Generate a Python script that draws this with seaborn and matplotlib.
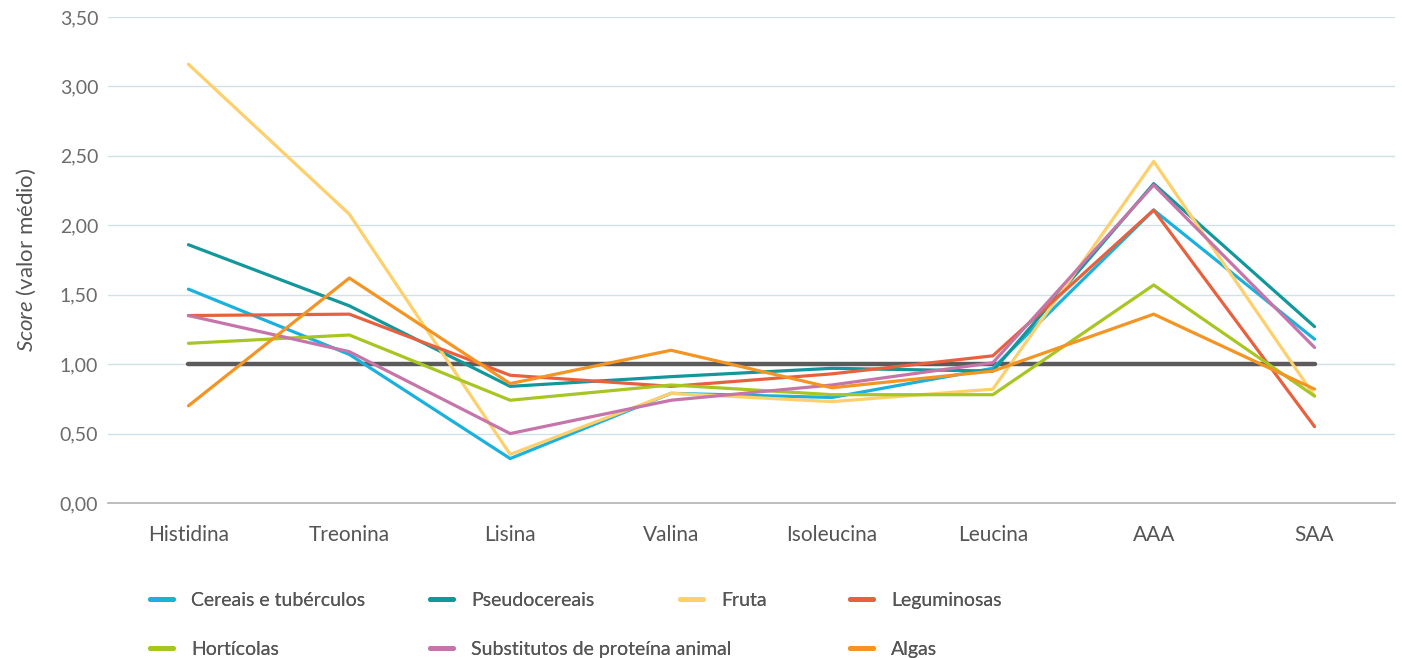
import numpy as np
import pandas as pd
import matplotlib
matplotlib.use("Agg")
import matplotlib.pyplot as plt
from matplotlib.ticker import FuncFormatter
from matplotlib.lines import Line2D
import seaborn as sns

AMINO = ["Histidina", "Treonina", "Lisina", "Valina", "Isoleucina", "Leucina", "AAA", "SAA"]

cereais      = [1.54, 1.07, 0.32, 0.79, 0.76, 0.97, 2.11, 1.18]
pseudo       = [1.86, 1.42, 0.84, 0.91, 0.97, 0.95, 2.30, 1.27]
fruta        = [3.16, 2.08, 0.35, 0.79, 0.73, 0.82, 2.46, 0.77]
leguminosas  = [1.35, 1.36, 0.92, 0.84, 0.93, 1.06, 2.11, 0.55]
horticolas   = [1.15, 1.21, 0.74, 0.85, 0.78, 0.78, 1.57, 0.77]
substitutos  = [1.35, 1.09, 0.50, 0.74, 0.85, 1.01, 2.29, 1.12]
algas        = [0.70, 1.62, 0.86, 1.10, 0.83, 0.95, 1.36, 0.82]
referencia   = [1.00] * 8

SERIES = {
    "Cereais e tubérculos": cereais,
    "Pseudocereais": pseudo,
    "Fruta": fruta,
    "Leguminosas": leguminosas,
    "Hortícolas": horticolas,
    "Substitutos de proteína animal": substitutos,
    "Algas": algas,
}
COLORS = {
    "Cereais e tubérculos": "#1ab1dd",
    "Pseudocereais": "#12979b",
    "Fruta": "#fdd06c",
    "Leguminosas": "#e8613f",
    "Hortícolas": "#a8c622",
    "Substitutos de proteína animal": "#c575a9",
    "Algas": "#f39423",
}

# legend columns: (x pixel, entries top to bottom)
LEGEND_COLS = [
    (150, ["Cereais e tubérculos", "Hortícolas"]),
    (430, ["Pseudocereais", "Substitutos de proteína animal"]),
    (680, ["Fruta"]),
    (850, ["Leguminosas", "Algas"]),
]

sns.set_theme(style="white")
plt.rcParams["font.family"] = ["Lato", "DejaVu Sans"]
plt.rcParams["mathtext.fontset"] = "custom"
plt.rcParams["mathtext.it"] = "Lato:italic"
plt.rcParams["mathtext.rm"] = "Lato"

rows = []
for name, vals in SERIES.items():
    for a, v in zip(AMINO, vals):
        rows.append({"aa": a, "score": v, "grupo": name})
df = pd.DataFrame(rows)
ref = pd.DataFrame({"aa": AMINO, "score": referencia})

W, H = 1402, 658
fig = plt.figure(figsize=(W / 100, H / 100), dpi=100)
ax = fig.add_axes([108 / W, 1 - 503 / H, (1395 - 108) / W, (503 - 17) / H])

sns.lineplot(data=ref, x="aa", y="score", color="#5b5b5b", lw=3.2, ax=ax,
             sort=False, zorder=2)
sns.lineplot(data=df, x="aa", y="score", hue="grupo", palette=COLORS,
             hue_order=list(SERIES.keys()), lw=2.3, ax=ax, sort=False,
             legend=False, zorder=3)

ax.set_xlim(-0.5, len(AMINO) - 0.5)
ax.set_ylim(0, 3.5)
ax.set_yticks(np.arange(0, 3.51, 0.5))
ax.yaxis.set_major_formatter(FuncFormatter(lambda v, _: f"{v:.2f}".replace(".", ",")))
ax.grid(axis="y", color="#cfe2ea", lw=1)
ax.grid(axis="x", visible=False)
for s in ["top", "right", "left"]:
    ax.spines[s].set_visible(False)
ax.spines["bottom"].set_color("#b5b5b5")
ax.tick_params(axis="y", labelsize=14, colors="#6b6b6b", length=0, pad=7)
ax.tick_params(axis="x", labelsize=15, colors="#555555", length=0, pad=16)
ax.set_xlabel("")
ax.set_ylabel(r"$\it{Score}$ (valor médio)", fontsize=16, color="#555555", labelpad=16)

for x0, names in LEGEND_COLS:
    handles = [Line2D([0], [0], color=COLORS[n], lw=3.5, solid_capstyle="round") for n in names]
    leg = fig.legend(handles, names, loc="upper left",
                     bbox_to_anchor=(x0 / W, 1 - 592 / H), borderaxespad=0,
                     borderpad=0, frameon=False, fontsize=14, handlelength=1.2,
                     handletextpad=0.9, labelspacing=1.65, labelcolor="#555555")
    fig.add_artist(leg)

fig.savefig("out.png", dpi=100)
